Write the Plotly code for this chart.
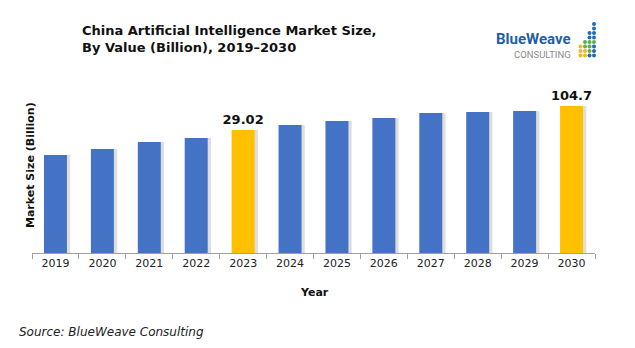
import plotly.graph_objects as go

years = ["2019", "2020", "2021", "2022", "2023", "2024", "2025", "2026", "2027", "2028", "2029", "2030"]
market_size = [7.6, 10.5, 15.3, 18.9, 29.02, 37.9, 46.9, 55.1, 72.0, 76.0, 80.1, 104.7]
highlight_years = ["2023", "2030"]

BLUE = "#4472C4"
GOLD = "#FFC000"

W, H = 635, 348
L, R, T, B = 32, 40, 90, 95
PW, PH = W - L - R, H - T - B


def px(xp):
    return (xp - L) / PW


def py(yp):
    return (H - B - yp) / PH


colors = [GOLD if y in highlight_years else BLUE for y in years]
labels = [f"{v:g}" if y in highlight_years else "" for y, v in zip(years, market_size)]

fig = go.Figure()
# soft shadow
fig.add_trace(go.Bar(
    x=years, y=market_size, width=0.49, offset=-0.245 + 0.07,
    marker=dict(color="rgba(0,0,0,0.13)", line=dict(width=0)),
    hoverinfo="skip", showlegend=False,
))
fig.add_trace(go.Bar(
    x=years, y=market_size, width=0.49, offset=-0.245,
    marker=dict(color=colors, line=dict(width=0)),
    text=labels, textposition="outside", cliponaxis=False, constraintext="none",
    textfont=dict(family="DejaVu Sans", size=13, color="#111111", weight="bold"),
    showlegend=False,
))

fig.update_layout(
    width=W, height=H,
    margin=dict(l=L, r=R, t=T, b=B),
    paper_bgcolor="white", plot_bgcolor="white",
    barmode="overlay",
    xaxis=dict(
        type="category", showline=True, linecolor="#a0a0a0", linewidth=1,
        ticks="outside", tickson="boundaries", ticklen=5, tickcolor="#a0a0a0",
        tickfont=dict(family="DejaVu Sans", size=11, color="#222222"),
        showgrid=False, zeroline=False, range=[-0.5, 11.5],
    ),
    yaxis=dict(type="log", range=[-1.3925, 2.391], visible=False),
    font=dict(family="DejaVu Sans"),
)

annotations = [
    dict(text="<b>China Artificial Intelligence Market Size,<br>By Value (Billion), 2019–2030</b>",
         x=px(80), y=py(39), xanchor="left", yanchor="middle", align="left",
         font=dict(family="DejaVu Sans", size=13, color="#111111")),
    dict(text="<b>Market Size (Billion)</b>", textangle=-90,
         x=px(30), y=py(165), xanchor="center", yanchor="middle",
         font=dict(family="DejaVu Sans", size=11, color="#111111")),
    dict(text="<b>Year</b>", x=px(314), y=py(292), xanchor="center", yanchor="middle",
         font=dict(family="DejaVu Sans", size=11, color="#111111")),
    dict(text="<i>Source: BlueWeave Consulting</i>", x=px(17), y=py(332),
         xanchor="left", yanchor="middle",
         font=dict(family="DejaVu Sans", size=12, color="#222222")),
    dict(text="<b>BlueWeave</b>", x=px(573), y=py(39), xanchor="right", yanchor="middle",
         font=dict(family="Liberation Sans Narrow, Roboto", size=15, color="#1F5FA8")),
    dict(text="CONSULTING", x=px(573), y=py(55), xanchor="right", yanchor="middle",
         font=dict(family="Liberation Sans Narrow, Roboto", size=9.5, color="#8C8C8C")),
]
for a in annotations:
    a.update(xref="paper", yref="paper", showarrow=False)
fig.update_layout(annotations=annotations)

# logo dot grid
YEL, GRN, BLU = "#F6B81C", "#5BB04A", "#1F6FB8"
cols_x = [580.5, 585, 589.5, 594]
col_dots = [
    [YEL, YEL, YEL],
    [YEL, YEL, GRN, GRN],
    [BLU, GRN, GRN, GRN, BLU, BLU],
    [BLU, BLU, BLU, GRN, BLU, BLU, BLU, BLU],
]
shapes = []
for cx, dots in zip(cols_x, col_dots):
    for r, c in enumerate(dots):
        cy = 55.5 - r * 4.5
        shapes.append(dict(type="circle", xref="paper", yref="paper",
                           xsizemode="pixel", ysizemode="pixel",
                           xanchor=px(cx), yanchor=py(cy),
                           x0=-2, x1=2, y0=-2, y1=2,
                           fillcolor=c, line=dict(width=0)))
fig.update_layout(shapes=shapes)

fig.write_html("out.html")
